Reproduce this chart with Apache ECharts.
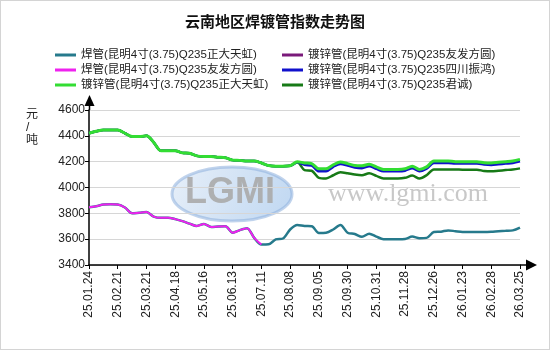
<!DOCTYPE html>
<html>
<head>
<meta charset="utf-8">
<script src="https://cdn.jsdelivr.net/npm/echarts@6/dist/echarts.min.js"></script>
<style>
  html, body { margin: 0; padding: 0; background: #fff; }
  #chart { width: 550px; height: 350px; box-sizing: border-box; border: 1px solid #d4d4d4; }
</style>
</head>
<body>
<div id="chart"></div>
<script>
// Weekly index dates (a labelled tick every fourth week)
var dates = [
  '25.01.24','25.01.31','25.02.07','25.02.14',
  '25.02.21','25.02.28','25.03.07','25.03.14',
  '25.03.21','25.03.28','25.04.03','25.04.11',
  '25.04.18','25.04.25','25.05.02','25.05.09',
  '25.05.16','25.05.23','25.05.30','25.06.06',
  '25.06.13','25.06.20','25.06.27','25.07.04',
  '25.07.11','25.07.18','25.07.25','25.08.01',
  '25.08.08','25.08.15','25.08.22','25.08.29',
  '25.09.05','25.09.11','25.09.17','25.09.24',
  '25.09.30','25.10.10','25.10.17','25.10.24',
  '25.10.31','25.11.07','25.11.14','25.11.21',
  '25.11.28','25.12.05','25.12.12','25.12.19',
  '25.12.26','26.01.02','26.01.09','26.01.16',
  '26.01.23','26.01.30','26.02.06','26.02.13',
  '26.02.28','26.03.06','26.03.13','26.03.20',
  '26.03.25'
];

var yTicks = { min: 3400, max: 4600, step: 200 };

// 焊管 正大天虹
var weldZhengda = [
  3848,3855,3868,3870, 3868,3845,3800,3805, 3810,3775,3765,3765,
  3755,3740,3720,3702, 3718,3695,3698,3700, 3650,3670,3685,3610,
  3558,3560,3598,3605, 3675,3710,3702,3700, 3648,3650,3675,3710,
  3650,3640,3618,3642, 3620,3600,3600,3600, 3602,3620,3608,3610,
  3655,3658,3668,3662, 3656,3656,3656,3656, 3658,3662,3665,3668,
  3690
];
// 焊管 友发方圆 (quotes stop after 25.07.11)
var weldYoufa = [
  3848,3855,3868,3870, 3868,3845,3800,3805, 3810,3775,3765,3765,
  3755,3740,3720,3702, 3718,3695,3698,3700, 3650,3670,3685,3610,
  3558
];
// 镀锌管 正大天虹
var galvZhengda = [
  4420,4435,4445,4445, 4445,4420,4395,4395, 4400,4350,4285,4285,
  4285,4268,4265,4245, 4240,4240,4235,4230, 4212,4210,4205,4205,
  4190,4170,4165,4165, 4168,4200,4190,4185, 4145,4145,4175,4198,
  4185,4170,4168,4180, 4160,4140,4140,4140, 4145,4165,4140,4160,
  4205,4205,4205,4200, 4200,4200,4200,4192, 4190,4195,4200,4205,
  4218
];
// 镀锌管 友发方圆 (quotes stop after 25.07.11)
var galvYoufa = [
  4420,4435,4445,4445, 4445,4420,4395,4395, 4400,4350,4285,4285,
  4285,4268,4265,4245, 4240,4240,4235,4230, 4212,4210,4205,4205,
  4190
];
// 镀锌管 四川振鸿
var galvZhenhong = [
  4420,4435,4445,4445, 4445,4420,4395,4395, 4400,4350,4285,4285,
  4285,4268,4265,4245, 4240,4240,4235,4230, 4212,4210,4205,4205,
  4190,4170,4165,4165, 4168,4195,4175,4170, 4125,4125,4160,4182,
  4170,4155,4150,4165, 4145,4125,4125,4125, 4130,4150,4125,4145,
  4190,4190,4190,4185, 4185,4185,4185,4178, 4175,4180,4185,4190,
  4202
];
// 镀锌管 君诚
var galvJuncheng = [
  4420,4435,4445,4445, 4445,4420,4395,4395, 4400,4350,4285,4285,
  4285,4268,4265,4245, 4240,4240,4235,4230, 4212,4210,4205,4205,
  4190,4170,4165,4165, 4168,4195,4135,4130, 4075,4070,4095,4118,
  4110,4100,4095,4110, 4090,4070,4070,4070, 4075,4092,4070,4095,
  4140,4140,4140,4140, 4138,4138,4138,4128, 4125,4130,4135,4140,
  4148
];

var names = {
  weldZhengda:  '焊管(昆明4寸(3.75)Q235正大天虹)',
  galvYoufa:    '镀锌管(昆明4寸(3.75)Q235友发方圆)',
  weldYoufa:    '焊管(昆明4寸(3.75)Q235友发方圆)',
  galvZhenhong: '镀锌管(昆明4寸(3.75)Q235四川振鸿)',
  galvZhengda:  '镀锌管(昆明4寸(3.75)Q235正大天虹)',
  galvJuncheng: '镀锌管(昆明4寸(3.75)Q235君诚)'
};

var FONT = '"Liberation Sans", Arial, "Noto Sans CJK SC", sans-serif';
var lineIcon = 'path://M0,0L21,0L21,3L0,3Z';

function lineSeries(name, data, color, width, z) {
  return {
    name: name, type: 'line', data: data, z: z,
    smooth: 0.3, showSymbol: false, symbol: 'none',
    itemStyle: { color: color },
    lineStyle: { color: color, width: width },
    emphasis: { disabled: true }
  };
}

var chart = echarts.init(document.getElementById('chart'), null, { renderer: 'canvas' });

var legendText = { fontSize: 11.5, color: '#222', fontFamily: FONT, lineHeight: 12 };

chart.setOption({
  animation: false,
  backgroundColor: '#fff',
  title: {
    text: '云南地区焊镀管指数走势图',
    left: 'center', top: 9,
    textStyle: { fontSize: 15, fontWeight: 'bold', color: '#111', fontFamily: FONT }
  },
  legend: [
    {
      orient: 'vertical', left: 49, top: 43, itemGap: 3,
      itemWidth: 21, itemHeight: 12, icon: lineIcon,
      textStyle: legendText,
      data: [names.weldZhengda, names.weldYoufa, names.galvZhengda]
    },
    {
      orient: 'vertical', left: 276, top: 43, itemGap: 3,
      itemWidth: 21, itemHeight: 12, icon: lineIcon,
      textStyle: legendText,
      data: [names.galvYoufa, names.galvZhenhong, names.galvJuncheng]
    }
  ],
  grid: { left: 88, right: 29, top: 109, bottom: 84, containLabel: false },
  xAxis: {
    type: 'category', data: dates, boundaryGap: false,
    axisLine: { lineStyle: { color: '#000', width: 1.5 } },
    axisTick: { show: true, interval: 3, length: 4, lineStyle: { color: '#000' } },
    axisLabel: {
      interval: 3, rotate: 90, margin: 6,
      fontSize: 12, color: '#222', fontFamily: FONT
    },
    splitLine: { show: false }
  },
  yAxis: {
    type: 'value', min: yTicks.min, max: yTicks.max, interval: yTicks.step,
    axisLine: { show: true, lineStyle: { color: '#000', width: 1.5 } },
    axisTick: { show: true, length: 4, lineStyle: { color: '#000' } },
    axisLabel: {
      fontSize: 12, color: '#222', fontFamily: FONT, margin: 4,
      formatter: function (v) { return String(v); }
    },
    splitLine: { show: true, lineStyle: { color: '#d6d6d6', width: 1 } }
  },
  series: [
    lineSeries(names.weldZhengda,  weldZhengda,  '#267a8c', 2.5, 2),
    lineSeries(names.weldYoufa,    weldYoufa,    '#ee22ee', 2,   3),
    lineSeries(names.galvYoufa,    galvYoufa,    '#7a1a7a', 2,   2),
    lineSeries(names.galvJuncheng, galvJuncheng, '#177a17', 2.5, 3),
    lineSeries(names.galvZhenhong, galvZhenhong, '#1010cc', 2.5, 4),
    lineSeries(names.galvZhengda,  galvZhengda,  '#33dd33', 3,   5)
  ]
});

// Axis arrows, site watermark and unit label, placed from the axis scales
var origin = chart.convertToPixel({ gridIndex: 0 }, [0, yTicks.min]);
var topPt = chart.convertToPixel({ gridIndex: 0 }, [0, yTicks.max]);
var endPt = chart.convertToPixel({ gridIndex: 0 }, [dates.length - 1, yTicks.min]);
var ox = Math.round(origin[0]) + 0.5, oy = Math.round(origin[1]);
var ty = topPt[1], ex = endPt[0];

chart.setOption({
  graphic: [
    // watermark logo
    {
      type: 'ellipse', z: -10, silent: true,
      shape: { cx: 231, cy: 193, rx: 60, ry: 27 },
      style: {
        fill: new echarts.graphic.LinearGradient(0, 0, 1, 1, [
          { offset: 0, color: 'rgba(225,235,247,0.8)' },
          { offset: 1, color: 'rgba(175,205,238,0.8)' }
        ]),
        stroke: 'rgba(140,175,220,0.55)', lineWidth: 3
      }
    },
    {
      type: 'text', z: -9, silent: true, left: 184, top: 174,
      style: {
        text: 'LGMI', fill: 'rgba(170,170,170,0.9)',
        font: 'bold 36px "Liberation Sans", Arial, sans-serif'
      }
    },
    {
      type: 'text', z: -9, silent: true, left: 327, top: 180,
      style: {
        text: 'www.lgmi.com', fill: 'rgba(190,190,190,0.85)',
        font: '26px "Liberation Serif", "Times New Roman", serif'
      }
    },
    // unit
    {
      type: 'text', left: 25, top: 107,
      style: {
        text: '元\n/\n吨', fill: '#222', align: 'center',
        font: '12px ' + FONT, lineHeight: 13
      }
    },
    // y axis extension and arrow
    {
      type: 'line', z: 10, silent: true,
      shape: { x1: ox, y1: ty, x2: ox, y2: ty - 6 },
      style: { stroke: '#000', lineWidth: 1.5 }
    },
    {
      type: 'polygon', z: 10, silent: true,
      shape: { points: [[ox - 5, ty - 4], [ox + 5, ty - 4], [ox, ty - 15]] },
      style: { fill: '#000' }
    },
    // x axis extension and arrow
    {
      type: 'line', z: 10, silent: true,
      shape: { x1: ex, y1: oy, x2: ex + 7, y2: oy },
      style: { stroke: '#000', lineWidth: 1.5 }
    },
    {
      type: 'polygon', z: 10, silent: true,
      shape: { points: [[ex + 6, oy - 5.5], [ex + 6, oy + 5.5], [ex + 17, oy]] },
      style: { fill: '#000' }
    }
  ]
});
</script>
</body>
</html>
